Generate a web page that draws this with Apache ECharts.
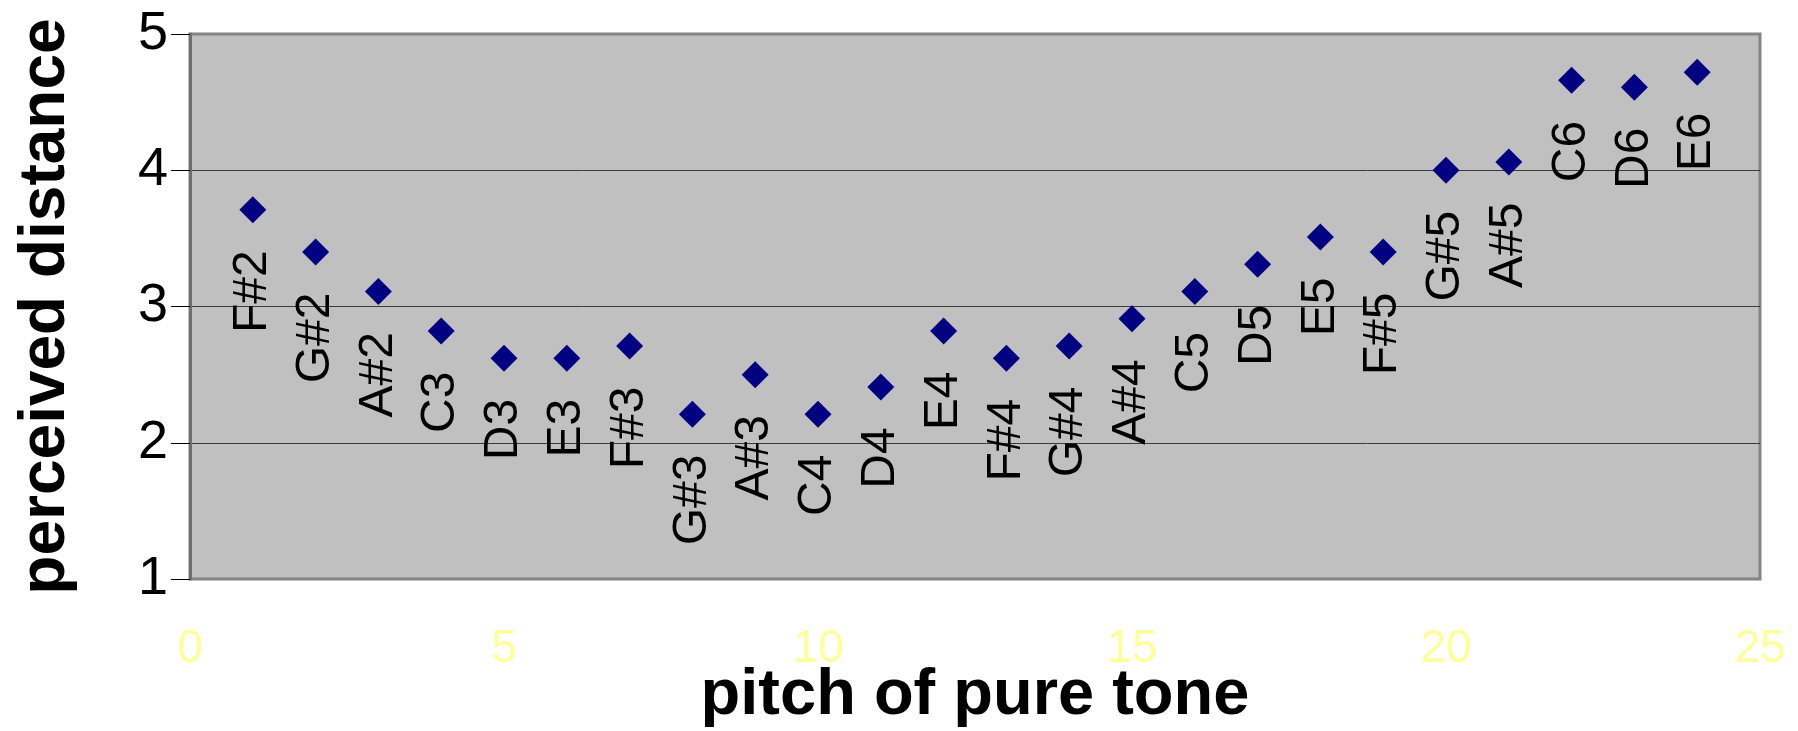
<!DOCTYPE html>
<html>
<head>
<meta charset="utf-8">
<script src="https://cdn.jsdelivr.net/npm/echarts@6/dist/echarts.min.js"></script>
<style>
  html, body { margin: 0; padding: 0; background: #ffffff; }
  #chart { width: 1798px; height: 731px; }
</style>
</head>
<body>
<div id="chart"></div>
<script>
// ---- data ----
const pitchIndex = [1, 2, 3, 4, 5, 6, 7, 8, 9, 10, 11, 12, 13, 14, 15, 16, 17, 18, 19, 20, 21, 22, 23, 24];
const noteNames = ['F#2', 'G#2', 'A#2', 'C3', 'D3', 'E3', 'F#3', 'G#3', 'A#3', 'C4', 'D4', 'E4',
                   'F#4', 'G#4', 'A#4', 'C5', 'D5', 'E5', 'F#5', 'G#5', 'A#5', 'C6', 'D6', 'E6'];
const perceivedDistance = [3.71, 3.40, 3.11, 2.82, 2.62, 2.62, 2.71, 2.21, 2.50, 2.21, 2.41, 2.82,
                           2.62, 2.71, 2.91, 3.11, 3.31, 3.51, 3.40, 4.00, 4.06, 4.66, 4.61, 4.72];
const xTicks = [0, 5, 10, 15, 20, 25];
const yTicks = [1, 2, 3, 4, 5];
const xTitle = 'pitch of pure tone';
const yTitle = 'perceived distance';

const FONT = '"Liberation Sans", Arial, Helvetica, sans-serif';
const points = pitchIndex.map((x, i) => [x, perceivedDistance[i]]);

const chart = echarts.init(document.getElementById('chart'), null, { renderer: 'canvas' });
chart.setOption({
  animation: false,
  backgroundColor: '#ffffff',
  grid: {
    left: 190, right: 38, top: 34, bottom: 152,
    outerBoundsMode: 'none',
    containLabel: false,
    show: true,
    backgroundColor: '#C0C0C0',
    borderColor: '#848484',
    borderWidth: 3
  },
  xAxis: {
    type: 'value',
    min: xTicks[0], max: xTicks[xTicks.length - 1], interval: 5,
    name: xTitle,
    nameLocation: 'middle',
    nameGap: 85,
    nameMoveOverlap: false,
    nameTextStyle: { fontFamily: FONT, fontSize: 65, fontWeight: 'bold', color: '#000' },
    axisLine: { show: false },
    axisTick: { show: false },
    splitLine: { show: false },
    axisLabel: { fontFamily: FONT, fontSize: 46, color: '#FFFF99', margin: 47 }
  },
  yAxis: {
    type: 'value',
    min: yTicks[0], max: yTicks[yTicks.length - 1], interval: 1,
    name: yTitle,
    nameLocation: 'middle',
    nameGap: 112,
    nameMoveOverlap: false,
    nameTextStyle: { fontFamily: FONT, fontSize: 64, fontWeight: 'bold', color: '#000' },
    axisLine: { show: true, lineStyle: { color: '#6e6e6e', width: 3 } },
    axisTick: { show: true, length: 19, lineStyle: { color: '#000', width: 1 } },
    axisLabel: { fontFamily: FONT, fontSize: 54, color: '#000', margin: 22 },
    splitLine: { show: true, showMinLine: false, showMaxLine: false,
                 lineStyle: { color: '#3a3a3a', width: 1 } }
  },
  series: [{
    type: 'scatter',
    data: points,
    symbol: 'diamond',
    symbolSize: 27,
    itemStyle: { color: '#000080', opacity: 1 },
    label: {
      show: true,
      position: 'bottom',
      distance: 24,
      rotate: 90,
      align: 'right',
      verticalAlign: 'middle',
      offset: [-3, 0],
      fontFamily: FONT,
      fontSize: 48,
      color: '#000',
      formatter: p => noteNames[p.dataIndex]
    }
  }]
});
</script>
</body>
</html>
